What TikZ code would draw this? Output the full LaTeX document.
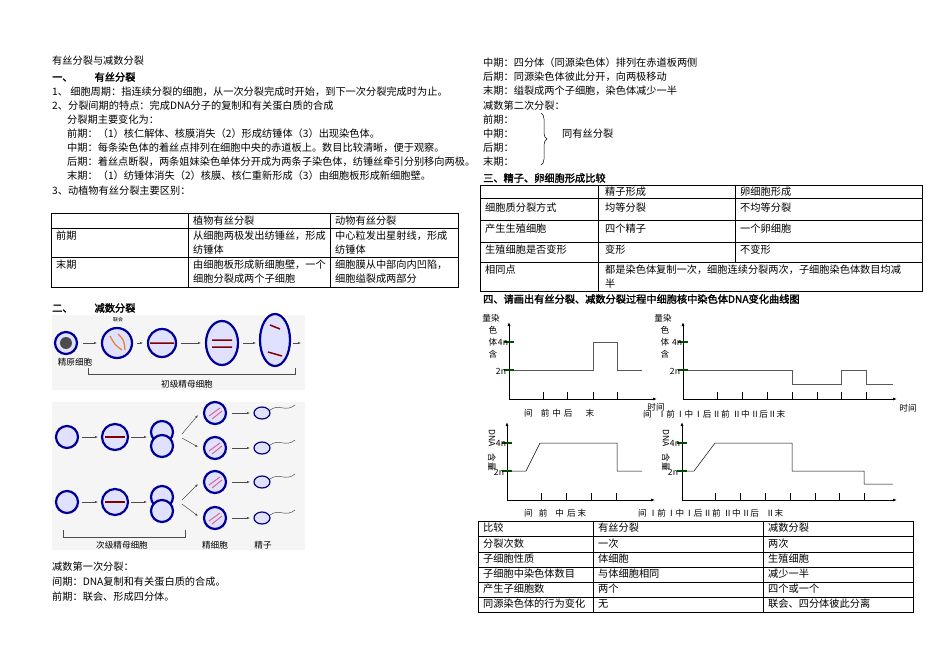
\documentclass[tikz,border=0pt]{standalone}
\usepackage{fontspec}
\setmainfont{Noto Sans CJK SC}[BoldFont={Noto Sans CJK SC},BoldFeatures={FakeBold=2}]
\usetikzlibrary{arrows.meta,decorations.pathreplacing}
\begin{document}
\begin{tikzpicture}[x=1pt,y=-1pt,
 tx/.style={anchor=west,inner sep=0,font=\fontsize{10.2}{10}\selectfont},
 cx/.style={anchor=west,inner sep=0,font=\fontsize{8.6}{9}\selectfont},
 sm/.style={anchor=center,inner sep=0,font=\fontsize{8.6}{9}\selectfont},
 tl/.style={line width=0.5pt},
 ax/.style={line width=0.8pt,-{Latex[length=4pt,width=3pt]}},
 cv/.style={line width=0.8pt,gray!70!black},
 gm/.style={line width=2pt,green!30!black},
 cell/.style={fill=blue!12,draw=blue!60!black,line width=2.2pt},
 ar/.style={-{Latex[length=3pt]},gray!60!black,line width=0.5pt}]
\useasboundingbox (0,0) rectangle (950,671);
% ---------- left column text
\node[tx] (t0) at (52,61) {有丝分裂与减数分裂};
\node[tx] (t1) at (52,77) {\textbf{一、\hspace{22pt}有丝分裂}};
\node[tx] (t2) at (52,92) {1、 细胞周期：指连续分裂的细胞，从一次分裂完成时开始，到下一次分裂完成时为止。};
\node[tx] (t3) at (52,106) {2、分裂间期的特点：完成DNA分子的复制和有关蛋白质的合成};
\node[tx] (t4) at (67,120) {分裂期主要变化为：};
\node[tx] (t5) at (67,134) {前期：（1）核仁解体、核膜消失（2）形成纺锤体（3）出现染色体。};
\node[tx] (t6) at (67,148) {中期：每条染色体的着丝点排列在细胞中央的赤道板上。数目比较清晰，便于观察。};
\node[tx] (t7) at (67,162) {后期：着丝点断裂，两条姐妹染色单体分开成为两条子染色体，纺锤丝牵引分别移向两极。};
\node[tx] (t8) at (67,176) {末期：（1）纺锤体消失（2）核膜、核仁重新形成（3）由细胞板形成新细胞壁。};
\node[tx] (t9) at (52,191) {3、动植物有丝分裂主要区别：};
% table 1
\draw[tl] (51,213) rectangle (458,287);
\draw[tl] (51,228) -- (458,228) (51,257) -- (458,257) (188,213) -- (188,287) (330,213) -- (330,287);
\node[tx] at (193,221) {植物有丝分裂};
\node[tx] at (335,221) {动物有丝分裂};
\node[tx] at (56,236) {前期};
\node[tx] at (193,236) {从细胞两极发出纺锤丝，形成};
\node[tx] at (193,250) {纺锤体};
\node[tx] at (335,236) {中心粒发出星射线，形成};
\node[tx] at (335,250) {纺锤体};
\node[tx] at (56,265) {末期};
\node[tx] at (193,265) {由细胞板形成新细胞壁，一个};
\node[tx] at (193,279) {细胞分裂成两个子细胞};
\node[tx] at (335,265) {细胞膜从中部向内凹陷，};
\node[tx] at (335,279) {细胞缢裂成两部分};
\node[tx] at (52,308) {\textbf{二、\hspace{22pt}减数分裂}};
% image 1
\fill[gray!8] (52,315) rectangle (305,390);
\draw[cell] (66,343) circle (11);
\fill[black!70] (66,343) circle (6);
\draw[cell] (117,343) circle (15);
\draw[cell] (162,343) circle (14);
\draw[cell] (222,343) ellipse (16 and 22);
\draw[cell] (275,340) ellipse (15 and 26);
\draw[orange!70!brown,line width=1.2pt] (110,336) .. controls (115,345) .. (122,350) (118,334) .. controls (124,340) .. (125,350);
\draw[red!50!black,line width=1.5pt] (150,343) -- (174,343) (212,340) -- (232,340) (212,347) -- (232,347) (270,325) -- (280,329) (268,352) -- (282,356);
\draw[ar] (83,343) -- (97,343);
\draw[ar] (137,343) -- (143,343);
\draw[ar] (181,343) -- (201,343);
\draw[ar] (243,343) -- (256,343);
\draw[ar] (293,343) -- (301,343);
\node[sm,font=\fontsize{5}{5}\selectfont] at (118,320) {联会};
\node[sm] at (75,362) {精原细胞};
\draw[gray!60!black,line width=0.6pt] (88,368) -- (88,374) -- (295,374) -- (295,368);
\node[sm] at (187,384) {初级精母细胞};
% image 2
\fill[gray!8] (52,402) rectangle (305,550);
\foreach \yy in {437,502}{
 \draw[cell] (67,\yy) circle (11);
 \draw[cell] (115,\yy) circle (13);
 \draw[cell] (162,\yy-5) circle (11);
 \draw[cell] (162,\yy+9) circle (11);
 \draw[ar] (82,\yy) -- (98,\yy);
 \draw[ar] (131,\yy) -- (147,\yy);
 \draw[red!50!black,line width=1.2pt] (105,\yy) -- (125,\yy);
}
\foreach \yy in {413,448,482,518}{
 \draw[cell] (215,\yy) circle (11);
 \draw[purple!60,line width=1pt] (209,\yy+3) -- (220,\yy-5) (212,\yy+6) -- (222,\yy-2);
 \draw[ar] (232,\yy) -- (250,\yy);
 \draw[fill=blue!12,draw=blue!50!black,line width=1.2pt] (262,\yy) ellipse (8 and 6);
 \draw[gray!60!black,line width=0.5pt] (270,\yy-3) .. controls (280,\yy-10) and (285,\yy) .. (295,\yy-8);
}
\draw[ar] (182,434) -- (198,415);
\draw[ar] (182,438) -- (198,447);
\draw[ar] (182,500) -- (198,484);
\draw[ar] (182,504) -- (198,516);
\draw[gray!60!black,line width=0.6pt] (63,530) -- (63,537) -- (185,537) -- (185,530);
\node[sm] at (122,545) {次级精母细胞};
\node[sm] at (215,545) {精细胞};
\node[sm] at (263,545) {精子};
\node[tx] at (52,567) {减数第一次分裂：};
\node[tx] at (52,582) {间期：DNA复制和有关蛋白质的合成。};
\node[tx] at (52,597) {前期：联会、形成四分体。};
% ---------- right column
\node[tx] at (483,63) {中期：四分体（同源染色体）排列在赤道板两侧};
\node[tx] at (483,77) {后期：同源染色体彼此分开，向两极移动};
\node[tx] at (483,91) {末期：缢裂成两个子细胞，染色体减少一半};
\node[tx] at (483,106) {减数第二次分裂：};
\node[tx] at (483,120) {前期：};
\node[tx] at (483,134) {中期：};
\node[tx] at (483,148) {后期：};
\node[tx] at (483,162) {末期：};
\draw[decorate,decoration={brace,amplitude=6pt},line width=0.5pt] (541,113) -- (541,165);
\node[tx] (same) at (562,134) {同有丝分裂};
\node[tx] at (483,178) {\textbf{三、精子、卵细胞形成比较}};
\draw[tl] (480,185) rectangle (922,291);
\draw[tl] (480,198) -- (922,198) (480,220) -- (922,220) (480,242) -- (922,242) (480,262) -- (922,262) (598,185) -- (598,291) (735,185) -- (735,262);
\node[tx] at (605,192) {精子形成};
\node[tx] at (740,192) {卵细胞形成};
\node[tx] at (485,208) {细胞质分裂方式};
\node[tx] at (605,208) {均等分裂};
\node[tx] at (740,208) {不均等分裂};
\node[tx] at (485,229) {产生生殖细胞};
\node[tx] at (605,229) {四个精子};
\node[tx] at (740,229) {一个卵细胞};
\node[tx] at (485,250) {生殖细胞是否变形};
\node[tx] at (605,250) {变形};
\node[tx] at (740,250) {不变形};
\node[tx] at (485,270) {相同点};
\node[tx] at (605,270) {都是染色体复制一次，细胞连续分裂两次，子细胞染色体数目均减};
\node[tx] at (605,284) {半};
\node[tx] at (483,299) {\textbf{四、请画出有丝分裂、减数分裂过程中细胞核中染色体DNA变化曲线图}};
% chart 1
\draw[ax] (509,399) -- (509,322);
\draw[ax] (509,399) -- (657,399);
\foreach \x in {543,567,593,617} \draw[tl] (\x,399) -- (\x,392);
\draw[cv] (509,370) -- (593,370) -- (593,342) -- (617,342) -- (617,370) -- (642,370);
\draw[gm] (504,342) -- (514,342) (504,370) -- (514,370);
\node[sm] at (491,318) {量染};
\node[sm] at (493,330) {色};
\node[sm] at (493,342) {体};
\node[sm] at (493,354) {含};
\node[sm] at (503,342) {4n};
\node[sm] at (501,371) {2n};
\node[cx] at (524,413) {间\hspace{8pt}前\hspace{3pt}中\hspace{3pt}后\hspace{13pt}末};
\node[sm] at (656,407) {时间};
% chart 2
\draw[ax] (683,399) -- (683,322);
\draw[ax] (683,399) -- (897,399);
\foreach \x in {717,742,767,792,817,841,866} \draw[tl] (\x,399) -- (\x,392);
\draw[cv] (683,370) -- (792,370) -- (792,384) -- (841,384) -- (841,370) -- (866,370) -- (866,384) -- (893,384);
\draw[gm] (678,342) -- (688,342) (678,370) -- (688,370);
\node[sm] at (663,318) {量染};
\node[sm] at (665,330) {色};
\node[sm] at (665,342) {体};
\node[sm] at (665,354) {含};
\node[sm] at (677,342) {4n};
\node[sm] at (675,371) {2n};
\node[cx] at (643,414) {间\hspace{6pt}Ⅰ前\hspace{1pt}Ⅰ中\hspace{1pt}Ⅰ后\hspace{1pt}Ⅱ前\hspace{3pt}Ⅱ中\hspace{1pt}Ⅱ后Ⅱ末};
\node[sm] at (908,408) {时间};
% chart 3
\draw[ax] (507,500) -- (507,422);
\draw[ax] (507,500) -- (655,500);
\foreach \x in {541,566,591,616} \draw[tl] (\x,500) -- (\x,493);
\draw[tl] (507,471) -- (526,471) -- (540,443) -- (617,443) -- (617,471) -- (642,471);
\draw[gm] (502,443) -- (512,443) (502,471) -- (512,471);
\node[sm,rotate=-90] at (492,438) {DNA};
\node[sm,rotate=-90] at (492,462) {含量};
\node[sm] at (501,443) {4n};
\node[sm] at (499,472) {2n};
\node[cx] at (524,513) {间\hspace{6pt}前\hspace{8pt}中\hspace{3pt}后\hspace{2pt}末};
% chart 4
\draw[ax] (682,500) -- (682,422);
\draw[ax] (682,500) -- (897,500);
\foreach \x in {715,740,765,790,815,839,864} \draw[tl] (\x,500) -- (\x,493);
\draw[tl] (682,471) -- (694,471) -- (715,443) -- (792,443) -- (792,471) -- (864,471) -- (864,484) -- (893,484);
\draw[gm] (677,443) -- (687,443) (677,471) -- (687,471);
\node[sm,rotate=-90] at (666,438) {DNA};
\node[sm,rotate=-90] at (666,462) {含量};
\node[sm] at (675,443) {4n};
\node[sm] at (673,472) {2n};
\node[cx] at (638,513) {间\hspace{2pt}Ⅰ前\hspace{1pt}Ⅰ中\hspace{1pt}Ⅰ后\hspace{1pt}Ⅱ前\hspace{3pt}Ⅱ中\hspace{1pt}Ⅱ后\hspace{7pt}Ⅱ末};
% bottom table
\draw[tl] (478,521) rectangle (913,612);
\foreach \yy in {536,552,567,582,597} \draw[tl] (478,\yy) -- (913,\yy);
\draw[tl] (593,521) -- (593,612) (763,521) -- (763,612);
\foreach \yy/\a/\b/\c in {528/比较/有丝分裂/减数分裂,544/分裂次数/一次/两次,559/子细胞性质/体细胞/生殖细胞,574/子细胞中染色体数目/与体细胞相同/减少一半,589/产生子细胞数/两个/四个或一个,604/同源染色体的行为变化/无/联会、四分体彼此分离}{
 \node[tx] at (483,\yy) {\a};
 \node[tx] at (598,\yy) {\b};
 \node[tx] at (768,\yy) {\c};
}
\end{tikzpicture}
\end{document}
